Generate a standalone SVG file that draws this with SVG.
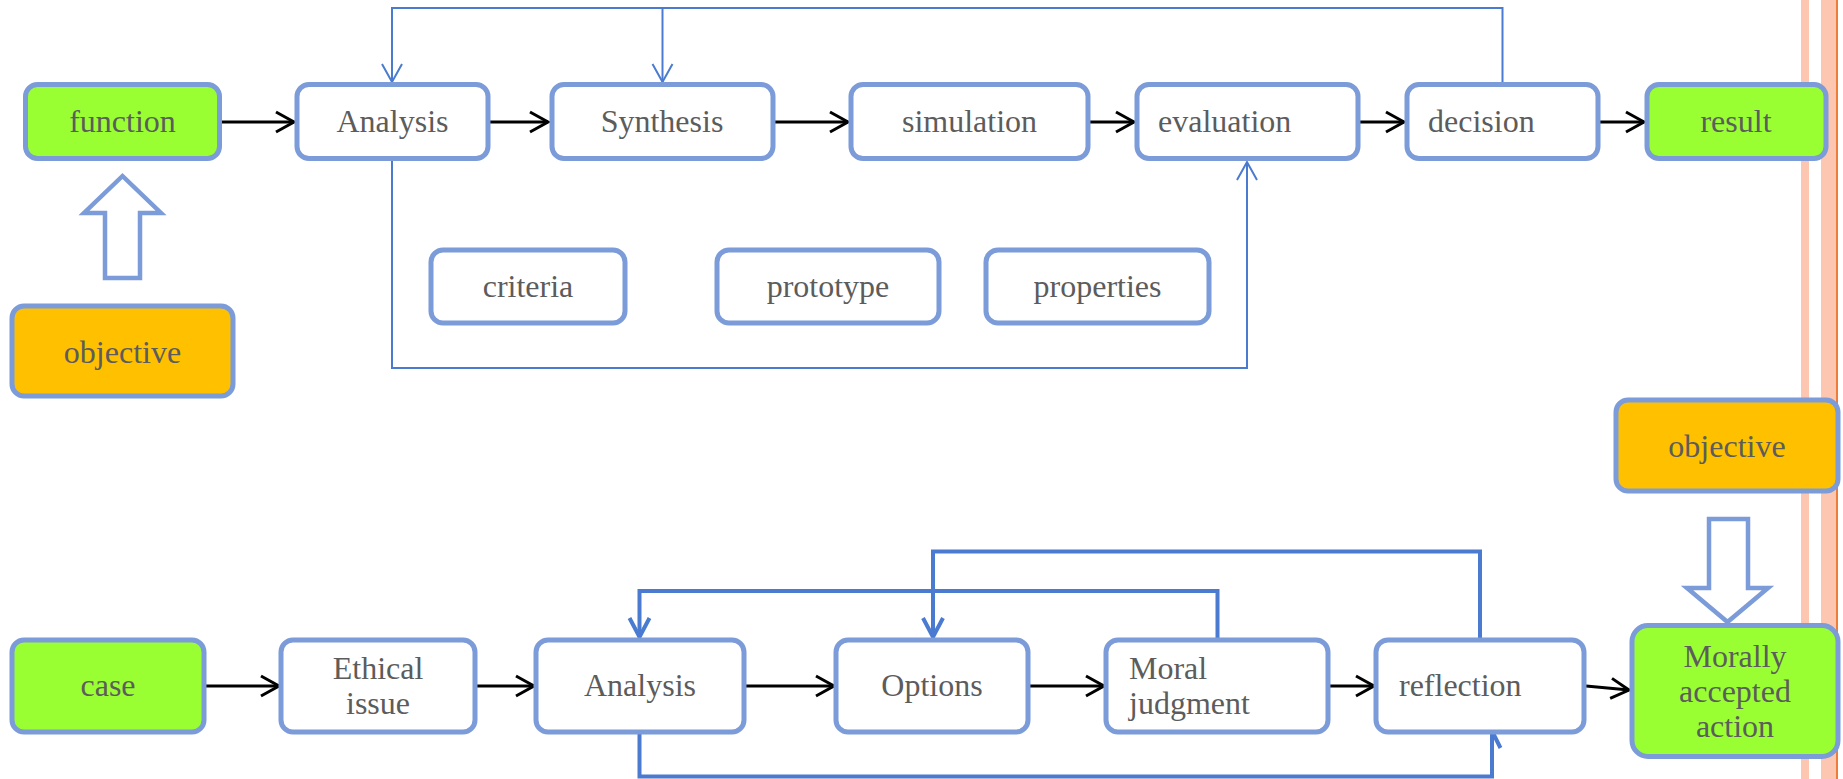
<svg xmlns="http://www.w3.org/2000/svg" width="1843" height="779" viewBox="0 0 1843 779">
<style>
.box{fill:#ffffff;stroke:#7b9bd9;stroke-width:5}
.g{fill:#99ff33}
.o{fill:#ffc000}
.t{font-family:"Liberation Serif","Times New Roman",serif;font-size:32px;fill:#5c5c5c}
.m{text-anchor:middle}
.blk{fill:none;stroke:#000000;stroke-width:3}
.fb{fill:none;stroke:#4a7bd0;stroke-width:2}
.fb2{fill:none;stroke:#4a7bd0;stroke-width:4}
.big{fill:#ffffff;stroke:#7b9bd9;stroke-width:4.5}
</style>
<defs>
<marker id="ah" markerUnits="userSpaceOnUse" markerWidth="24" markerHeight="26" viewBox="-20 -12 24 24" refX="0" refY="0" orient="auto">
<path d="M-18,-10 L0,0 L-18,10" fill="none" stroke="#000000" stroke-width="3"/>
</marker>
<marker id="fa" markerUnits="userSpaceOnUse" markerWidth="24" markerHeight="26" viewBox="-20 -12 24 24" refX="0" refY="0" orient="auto">
<path d="M-18,-10 L0,0 L-18,10" fill="none" stroke="#4a7bd0" stroke-width="2"/>
</marker>
<marker id="fa2" markerUnits="userSpaceOnUse" markerWidth="26" markerHeight="28" viewBox="-22 -13 26 26" refX="0" refY="0" orient="auto">
<path d="M-19,-10 L0,0 L-19,10" fill="none" stroke="#4a7bd0" stroke-width="4"/>
</marker>
</defs>
<rect width="1843" height="779" fill="#ffffff"/>
<g id="stripes">
<rect x="1801" y="0" width="8" height="779" fill="#fcc6b0"/>
<rect x="1821" y="0" width="15" height="779" fill="#fcc6b0"/>
<rect x="1836" y="0" width="2" height="779" fill="#f07c3a"/>
</g>
<g id="connectors">
<line class="blk" x1="220" y1="122" x2="294" y2="122" marker-end="url(#ah)"/>
<line class="blk" x1="490" y1="122" x2="548" y2="122" marker-end="url(#ah)"/>
<line class="blk" x1="775" y1="122" x2="848" y2="122" marker-end="url(#ah)"/>
<line class="blk" x1="1090" y1="122" x2="1134" y2="122" marker-end="url(#ah)"/>
<line class="blk" x1="1360" y1="122" x2="1404" y2="122" marker-end="url(#ah)"/>
<line class="blk" x1="1600" y1="122" x2="1644" y2="122" marker-end="url(#ah)"/>
<line class="blk" x1="206" y1="686" x2="279" y2="686" marker-end="url(#ah)"/>
<line class="blk" x1="477" y1="686" x2="534" y2="686" marker-end="url(#ah)"/>
<line class="blk" x1="746" y1="686" x2="834" y2="686" marker-end="url(#ah)"/>
<line class="blk" x1="1030" y1="686" x2="1104" y2="686" marker-end="url(#ah)"/>
<line class="blk" x1="1330" y1="686" x2="1374" y2="686" marker-end="url(#ah)"/>
<line class="blk" x1="1586" y1="686" x2="1629" y2="690" marker-end="url(#ah)"/>
<path class="fb" d="M1502.5,83 V8 H392 V82" marker-end="url(#fa)"/>
<path class="fb" d="M662.5,8 V82" marker-end="url(#fa)"/>
<path class="fb" d="M392,160 V368 H1247 V162" marker-end="url(#fa)"/>
<path class="fb2" d="M1217.5,638 V591 H639.5 V637" marker-end="url(#fa2)"/>
<path class="fb2" d="M1480,638 V551.5 H933 V637" marker-end="url(#fa2)"/>
<path class="fb2" d="M639.5,733 V776.5 H1492 V732"/>
<path class="fb2" d="M1488,732 H1511 M1493,733 L1500.5,748"/>
</g>
<g id="n-function"><rect class="box g" x="25.5" y="84.5" width="194" height="74" rx="12"/><text class="t m" x="122.5" y="132">function</text></g>
<g id="n-analysis1"><rect class="box" x="297" y="84.5" width="191" height="74" rx="12"/><text class="t m" x="392.5" y="132">Analysis</text></g>
<g id="n-synthesis"><rect class="box" x="552" y="84.5" width="221" height="74" rx="12"/><text class="t m" x="662" y="132">Synthesis</text></g>
<g id="n-simulation"><rect class="box" x="851" y="84.5" width="237" height="74" rx="12"/><text class="t m" x="969.5" y="132">simulation</text></g>
<g id="n-evaluation"><rect class="box" x="1137" y="84.5" width="221" height="74" rx="12"/><text class="t" x="1158" y="132">evaluation</text></g>
<g id="n-decision"><rect class="box" x="1407" y="84.5" width="191" height="74" rx="12"/><text class="t" x="1428" y="132">decision</text></g>
<g id="n-result"><rect class="box g" x="1647" y="84.5" width="179" height="74" rx="12"/><text class="t m" x="1736" y="132">result</text></g>
<g id="n-criteria"><rect class="box" x="431" y="250" width="194" height="73" rx="12"/><text class="t m" x="528" y="297">criteria</text></g>
<g id="n-prototype"><rect class="box" x="717" y="250" width="222" height="73" rx="12"/><text class="t m" x="828" y="297">prototype</text></g>
<g id="n-properties"><rect class="box" x="986" y="250" width="223" height="73" rx="12"/><text class="t m" x="1097.5" y="297">properties</text></g>
<g id="n-objective1"><rect class="box o" x="12" y="306" width="221" height="90" rx="12"/><text class="t m" x="122.5" y="363">objective</text></g>
<g id="a-up"><polygon class="big" points="122.5,176 161,213 140,213 140,278 105,278 105,213 84,213"/></g>
<g id="n-case"><rect class="box g" x="12" y="640" width="192" height="92" rx="12"/><text class="t m" x="108" y="696">case</text></g>
<g id="n-ethical"><rect class="box" x="281" y="640" width="194" height="92" rx="12"/><text class="t m" x="378" y="679">Ethical</text><text class="t m" x="378" y="714">issue</text></g>
<g id="n-analysis2"><rect class="box" x="536" y="640" width="208" height="92" rx="12"/><text class="t m" x="640" y="696">Analysis</text></g>
<g id="n-options"><rect class="box" x="836" y="640" width="192" height="92" rx="12"/><text class="t m" x="932" y="696">Options</text></g>
<g id="n-moral"><rect class="box" x="1106" y="640" width="222" height="92" rx="12"/><text class="t" x="1129" y="679">Moral</text><text class="t" x="1129" y="714">judgment</text></g>
<g id="n-reflection"><rect class="box" x="1376" y="640" width="208" height="92" rx="12"/><text class="t" x="1399" y="696">reflection</text></g>
<g id="n-objective2"><rect class="box o" x="1616" y="400" width="222" height="91" rx="12"/><text class="t m" x="1727" y="457">objective</text></g>
<g id="a-down"><polygon class="big" points="1709,519 1748,519 1748,588 1768,588 1727.5,622 1687,588 1709,588"/></g>
<g id="n-morally"><rect class="box g" x="1632" y="625.5" width="206" height="131" rx="16"/><text class="t m" x="1735" y="667">Morally</text><text class="t m" x="1735" y="702">accepted</text><text class="t m" x="1735" y="737">action</text></g>
</svg>
